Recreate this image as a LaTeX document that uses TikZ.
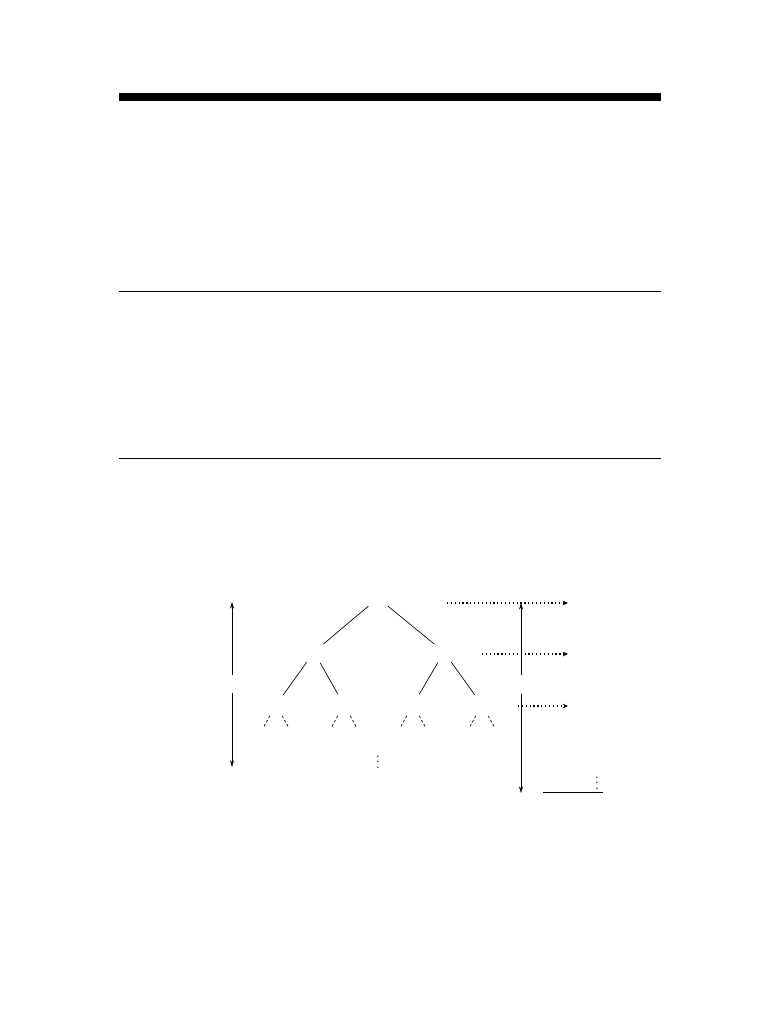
\documentclass[tikz,border=0pt]{standalone}
\usetikzlibrary{arrows.meta}

\tikzset{every picture/.style={line width=0.75pt}}
\tikzset{
  slot/.style={circle, inner sep=0pt, minimum size=18pt},
  gap/.style={inner sep=0pt, minimum width=4pt, minimum height=13pt},
  edge/.style={line width=0.5pt},
  stub/.style={line width=0.5pt, dash pattern={on 2pt off 1.5pt}},
  span/.style={line width=0.5pt, -{Stealth[length=5pt,width=3pt]}},
  probe/.style={line width=0.9pt, dotted, -{Stealth[open,length=4pt,width=3.5pt]}}
}

\begin{document}
\begin{tikzpicture}[x=0.75pt,y=0.75pt,yscale=-1,xscale=1]
%set diagram to the page size
\useasboundingbox (0,0) rectangle (782,1012);

%Rules of the page
\fill (119,93) rectangle (661,101);
\draw [line width=0.6pt] (119,291) -- (661,291);
\draw [line width=0.6pt] (119,458) -- (661,458);

%Tree
\node [slot] (root) at (378,598) {};
\node [slot] (l) at (314,652) {};
\node [slot] (r) at (444,652) {};
\node [slot] (ll) at (276,705) {};
\node [slot] (lr) at (344,705) {};
\node [slot] (rl) at (413,705) {};
\node [slot] (rr) at (482,705) {};
\draw [edge] (root) -- (l);
\draw [edge] (root) -- (r);
\draw [edge] (l) -- (ll);
\draw [edge] (l) -- (lr);
\draw [edge] (r) -- (rl);
\draw [edge] (r) -- (rr);

%Stubs below the last level
\foreach \n/\x in {ll/276, lr/344, rl/413, rr/482} {
  \coordinate (\n a) at (\x-13,728);
  \coordinate (\n b) at (\x+13,728);
  \draw [stub] (\n) -- (\n a);
  \draw [stub] (\n) -- (\n b);
}
\node (tdots) at (378,758) {$\vdots$};

%Height on the left
\node [gap] (hleft) at (232,684) {};
\coordinate (htop) at (232,602);
\coordinate (hbot) at (232,767);
\draw [span] (hleft) -- (htop);
\draw [span] (hleft) -- (hbot);

%Height on the right
\node [gap] (hright) at (521,684.5) {};
\coordinate (rtop) at (521,603);
\coordinate (rbot) at (521,793);
\draw [span] (hright) -- (rtop);
\draw [span] (hright) -- (rbot);

%Dotted arrows
\coordinate (p1) at (447,603);
\coordinate (q1) at (568,603);
\coordinate (p2) at (482,654);
\coordinate (q2) at (568,654);
\coordinate (p3) at (518,706);
\coordinate (q3) at (568,706);
\draw [probe] (p1) -- (q1);
\draw [probe] (p2) -- (q2);
\draw [probe] (p3) -- (q3);

%Bottom right
\coordinate (bl) at (543,792);
\coordinate (br) at (603,792);
\draw [line width=0.5pt] (bl) -- (br);
\node (bdots) at (597,779) {$\vdots$};

\end{tikzpicture}
\end{document}
